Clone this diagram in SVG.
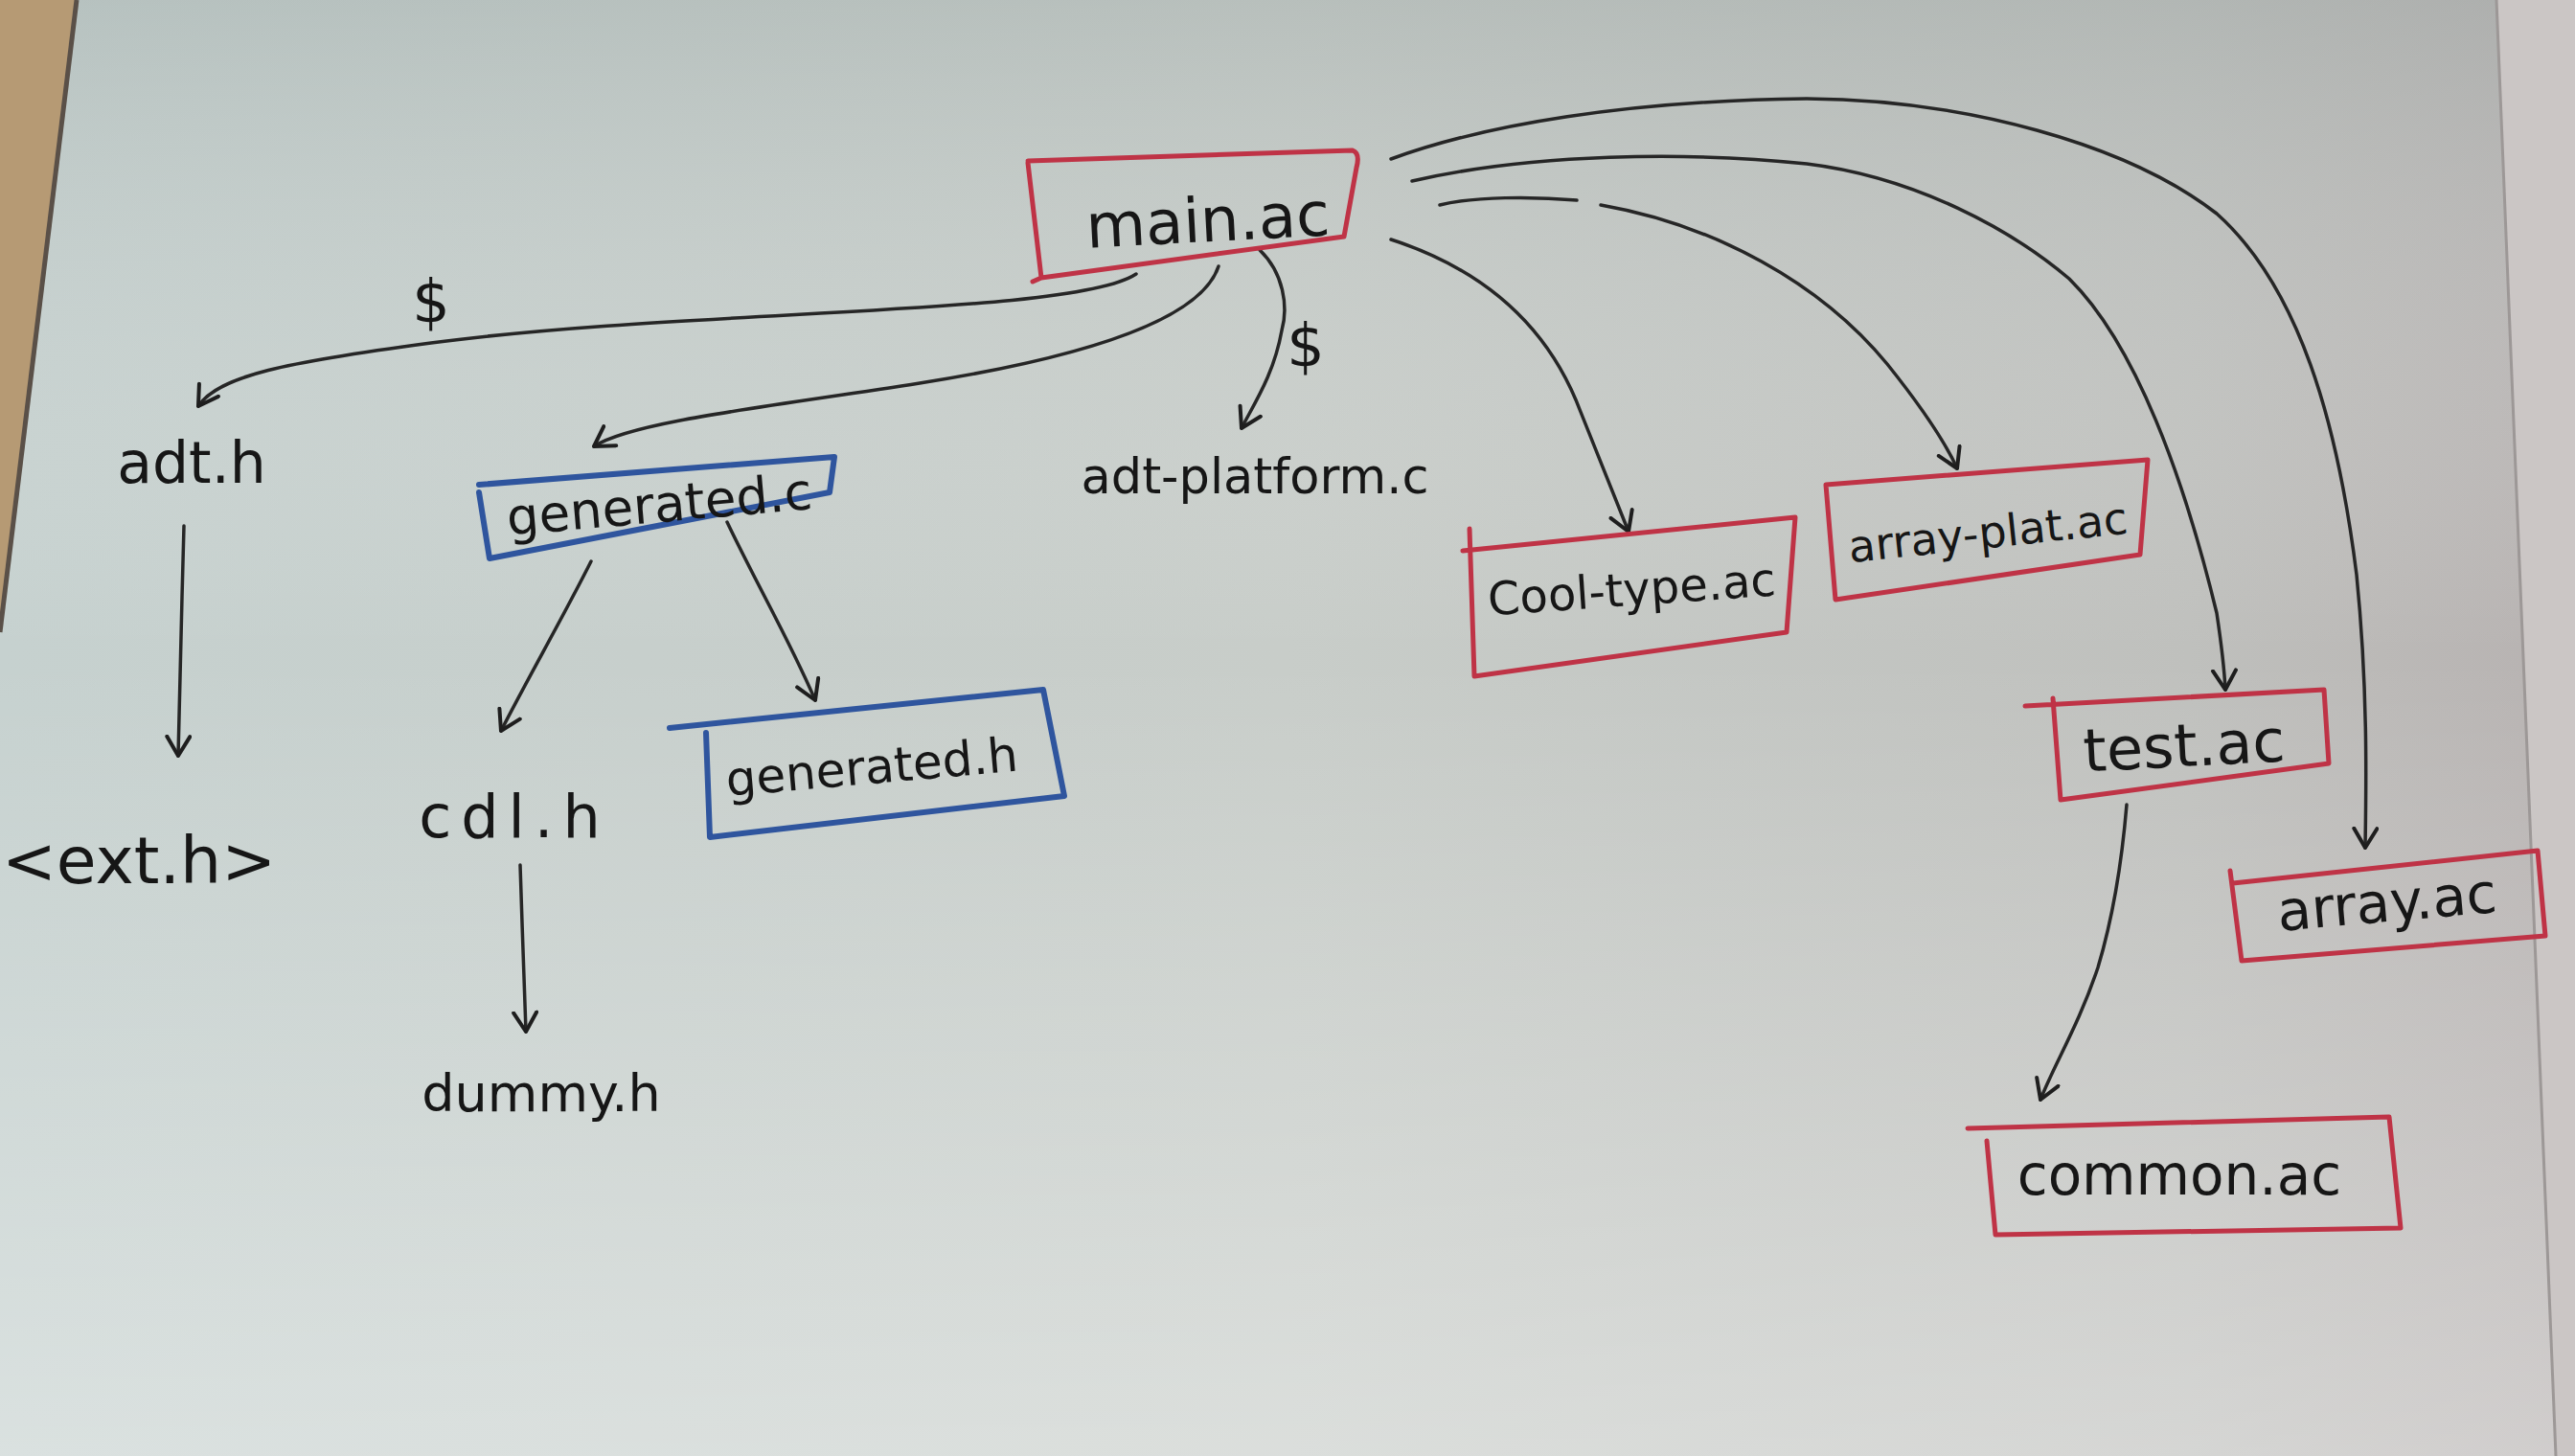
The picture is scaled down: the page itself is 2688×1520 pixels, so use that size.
<svg xmlns="http://www.w3.org/2000/svg" width="2688" height="1520" viewBox="0 0 2688 1520">
<defs>
  <linearGradient id="bgH" x1="0" y1="0" x2="1" y2="0">
    <stop offset="0" stop-color="#c6d1cf"/>
    <stop offset="0.5" stop-color="#c8cdc9"/>
    <stop offset="0.85" stop-color="#bfc0bd"/>
    <stop offset="1" stop-color="#b7b2b1"/>
  </linearGradient>
  <linearGradient id="bgV" x1="0" y1="0" x2="0" y2="1">
    <stop offset="0" stop-color="#9aa6a4" stop-opacity="0.35"/>
    <stop offset="0.45" stop-color="#ffffff" stop-opacity="0"/>
    <stop offset="1" stop-color="#ffffff" stop-opacity="0.35"/>
  </linearGradient>
  <marker id="arr" markerUnits="userSpaceOnUse" markerWidth="40" markerHeight="40" refX="22" refY="14" orient="auto">
    <path d="M2,2 L22,14 L2,26" fill="none" stroke="#1e1e1e" stroke-width="4" stroke-linecap="round" stroke-linejoin="round"/>
  </marker>
  <style>
    .lbl{font-family:"DejaVu Sans","Liberation Sans",sans-serif;fill:#161616;text-anchor:middle}
    .red{fill:none;stroke:#bf3346;stroke-width:5;stroke-linejoin:round;stroke-linecap:round}
    .blue{fill:none;stroke:#2f559e;stroke-width:6;stroke-linejoin:round;stroke-linecap:round}
    .edge{fill:none;stroke:#262626;stroke-width:3.5;stroke-linecap:round;marker-end:url(#arr)}
    .thin{fill:none;stroke:#262626;stroke-width:3.5;stroke-linecap:round}
  </style>
</defs>

<!-- whiteboard background -->
<rect x="0" y="0" width="2688" height="1520" fill="url(#bgH)"/>
<rect x="0" y="0" width="2688" height="1520" fill="url(#bgV)"/>
<polygon points="0,0 80,0 0,660" fill="#b69a74"/>
<line x1="80" y1="0" x2="0" y2="660" stroke="#5a5048" stroke-width="5"/>
<polygon points="2606,0 2688,0 2688,1520 2668,1520" fill="#cbc6c5"/>
<line x1="2606" y1="0" x2="2668" y2="1520" stroke="#9d9897" stroke-width="3"/>

<!-- connectors -->
<g id="connectors">
  <path class="edge" d="M1186,286 C1120,330 720,322 450,358 C300,378 228,392 207,424"/>
  <path class="edge" d="M1272,278 C1255,330 1150,370 960,400 C800,425 660,440 620,466"/>
  <path class="edge" d="M1315,261 C1340,285 1345,320 1338,345 C1330,390 1310,420 1296,447"/>
  <path class="edge" d="M1452,250 C1560,285 1620,350 1650,430 C1670,480 1690,530 1700,555"/>
  <path class="thin" d="M1503,214 C1540,205 1600,205 1646,209"/>
  <path class="edge" d="M1671,214 C1790,235 1900,295 1970,380 C2010,430 2032,465 2043,489"/>
  <path class="edge" d="M1474,189 C1600,160 1760,158 1886,171 C2000,185 2100,240 2160,291 C2230,360 2280,500 2314,640 C2320,680 2322,700 2323,720"/>
  <path class="edge" d="M1452,166 C1550,130 1700,105 1886,103 C2050,104 2220,150 2314,223 C2400,300 2440,440 2460,600 C2472,720 2470,820 2469,885"/>
  <path class="edge" d="M192,549 C190,630 187,720 186,789"/>
  <path class="edge" d="M617,586 C590,640 550,710 523,763"/>
  <path class="edge" d="M759,545 C790,610 825,670 851,731"/>
  <path class="edge" d="M543,903 C545,960 547,1030 549,1077"/>
  <path class="edge" d="M2220,840 C2215,900 2205,960 2190,1010 C2170,1070 2145,1110 2130,1148"/>
  <text class="lbl" x="450" y="336" font-size="62">$</text>
  <text class="lbl" x="1363" y="382" font-size="62">$</text>
</g>

<!-- nodes -->
<g id="main_ac">
  <path class="red" d="M1073,168 L1412,157 Q1420,160 1416,175 L1403,247 L1087,290 L1078,294 M1087,290 L1073,170"/>
  <text class="lbl" x="1261" y="252" font-size="64" transform="rotate(-3 1261 235)">main.ac</text>
</g>
<g id="adt_h">
  <text class="lbl" x="200" y="504" font-size="60">adt.h</text>
</g>
<g id="ext_h">
  <text class="lbl" x="145" y="922" font-size="68">&lt;ext.h&gt;</text>
</g>
<g id="generated_c">
  <path class="blue" d="M500,506 L871,477 L866,514 L511,583 L500,514"/>
  <text class="lbl" x="688" y="545" font-size="53" transform="rotate(-5 688 525)">generated.c</text>
</g>
<g id="generated_h">
  <path class="blue" d="M699,760 L1089,720 L1111,831 L741,874 L737,765"/>
  <text class="lbl" x="910" y="818" font-size="50" transform="rotate(-5 910 800)">generated.h</text>
</g>
<g id="cdl_h">
  <text class="lbl" x="537" y="874" font-size="62" letter-spacing="10">cdl.h</text>
</g>
<g id="dummy_h">
  <text class="lbl" x="565" y="1160" font-size="54">dummy.h</text>
</g>
<g id="adt_platform_c">
  <text class="lbl" x="1310" y="515" font-size="51">adt-platform.c</text>
</g>
<g id="cool_type_ac">
  <path class="red" d="M1527,575 L1874,540 L1865,660 L1539,706 L1534,552"/>
  <text class="lbl" x="1703" y="632" font-size="48" transform="rotate(-4 1703 612)">Cool-type.ac</text>
</g>
<g id="array_plat_ac">
  <path class="red" d="M1906,506 L2242,480 L2234,579 L1916,626 L1906,506"/>
  <text class="lbl" x="2075" y="572" font-size="46" transform="rotate(-6 2075 555)">array-plat.ac</text>
</g>
<g id="test_ac">
  <path class="red" d="M2114,737 L2426,720 L2431,797 L2151,835 L2143,729"/>
  <text class="lbl" x="2280" y="800" font-size="62" transform="rotate(-3 2280 780)">test.ac</text>
</g>
<g id="array_ac">
  <path class="red" d="M2331,922 L2649,888 L2657,977 L2340,1003 L2328,909"/>
  <text class="lbl" x="2492" y="962" font-size="58" transform="rotate(-5 2492 945)">array.ac</text>
</g>
<g id="common_ac">
  <path class="red" d="M2054,1178 L2494,1166 L2506,1282 L2083,1289 L2074,1191"/>
  <text class="lbl" x="2275" y="1247" font-size="58">common.ac</text>
</g>
</svg>
